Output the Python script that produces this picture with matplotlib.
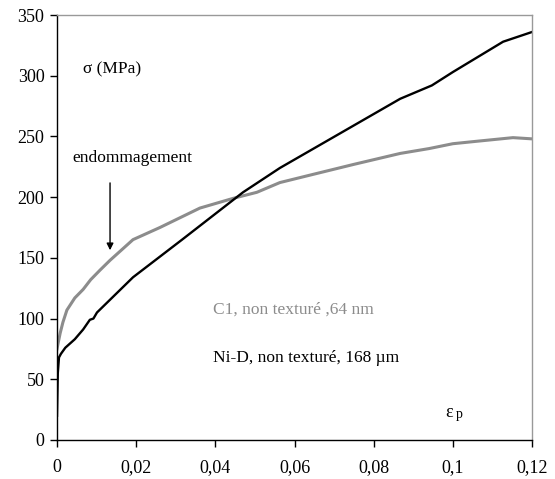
import matplotlib.pyplot as plt

plt.rcParams['font.family'] = ['Liberation Serif', 'DejaVu Serif']

# Ni-D, non texture, 168 um (black)
nid_eps = [0.0, 0.0002, 0.0005, 0.001, 0.0021, 0.0045, 0.0066, 0.0083, 0.0092, 0.0101,
           0.0192, 0.0316, 0.047, 0.0563, 0.0867, 0.0947, 0.1, 0.1127, 0.12]
nid_sig = [20, 55, 68, 71, 76, 83, 91, 99, 100, 105,
           134, 165, 204, 224, 281, 292, 303, 328, 336]

# C1, non texture, 64 nm (gray)
c1_eps = [0.0, 0.0003, 0.0008, 0.0015, 0.0025, 0.0045, 0.0066, 0.0085, 0.0109, 0.0134,
          0.0192, 0.026, 0.0361, 0.0445, 0.0505, 0.0563, 0.065, 0.075, 0.0867, 0.094,
          0.1, 0.106, 0.1152, 0.12]
c1_sig = [75, 80, 88, 97, 107, 117, 124, 132, 140, 148,
          165, 175, 191, 199, 204, 212, 219, 227, 236, 240,
          244, 246, 249, 248]

fig = plt.figure(figsize=(5.55, 4.79), dpi=100)
ax = fig.add_axes([57 / 555, 1 - 440 / 479, 475 / 555, 425 / 479])

ax.plot(c1_eps, c1_sig, color='#8c8c8c', linewidth=2.2, solid_joinstyle='round')
ax.plot(nid_eps, nid_sig, color='black', linewidth=1.7, solid_joinstyle='round')

ax.set_xlim(0, 0.12)
ax.set_ylim(0, 350)
ax.set_xticks([0, 0.02, 0.04, 0.06, 0.08, 0.1, 0.12])
ax.set_xticklabels(['0', '0,02', '0,04', '0,06', '0,08', '0,1', '0,12'])
ax.set_yticks(range(0, 351, 50))
ax.tick_params(labelsize=13, direction='out', length=5, width=1, colors='black')
ax.tick_params(axis='x', pad=9)
ax.tick_params(axis='y', pad=4)

for side in ['top', 'right']:
    ax.spines[side].set_color('#999999')
    ax.spines[side].set_linewidth(1)
for side in ['left', 'bottom']:
    ax.spines[side].set_color('black')
    ax.spines[side].set_linewidth(1)

ax.text(0.0066, 305, 'σ (MPa)', fontsize=12.5, va='center', ha='left')
ax.text(0.0191, 232, 'endommagement', fontsize=12.5, va='center', ha='center')
ax.annotate('', xy=(0.0134, 154), xytext=(0.0134, 214),
            arrowprops=dict(arrowstyle='-|>', color='black', lw=1, mutation_scale=10))
ax.text(0.0394, 107, 'C1, non texturé ,64 nm', fontsize=12.5, color='#8c8c8c', va='center')
ax.text(0.0394, 67.5, 'Ni-D, non texturé, 168 µm', fontsize=12.5, color='black', va='center')
ax.text(0.098, 23, 'ε', fontsize=13, va='center')
ax.text(0.1008, 21, 'p', fontsize=10, va='center')

fig.savefig('out.png', dpi=100)
